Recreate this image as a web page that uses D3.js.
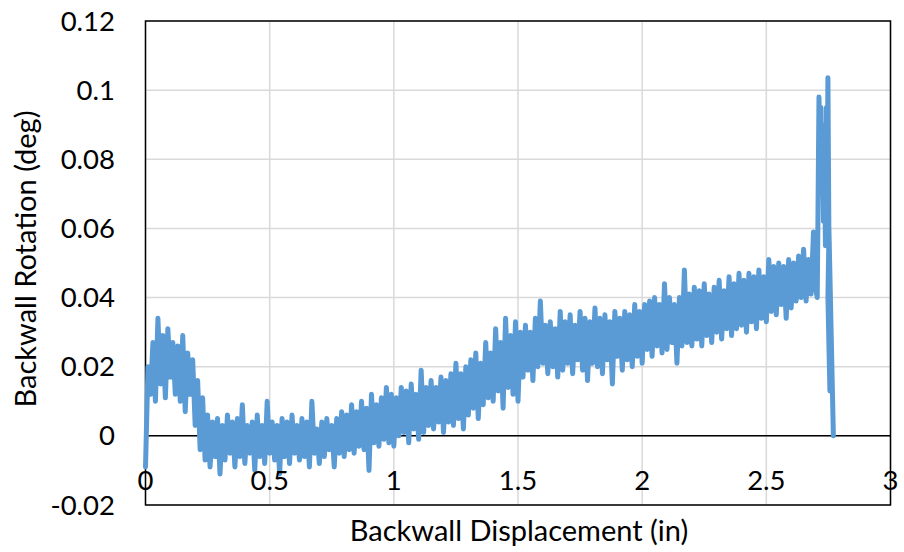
<!DOCTYPE html>
<html>
<head>
<meta charset="utf-8">
<script src="https://cdn.jsdelivr.net/npm/d3@7"></script>
<style>
html,body{margin:0;padding:0;background:#fff;}
svg{display:block;}
text{font-family:Lato,"Open Sans",sans-serif;fill:#000;}
</style>
</head>
<body>
<svg id="chart" width="904" height="552"></svg>
<script>
// ---- data ----
const xTicks = [0, 0.5, 1, 1.5, 2, 2.5, 3];
const yTicks = [-0.02, 0, 0.02, 0.04, 0.06, 0.08, 0.1, 0.12];
const xTickLabels = ["0", "0.5", "1", "1.5", "2", "2.5", "3"];
const yTickLabels = ["-0.02", "0", "0.02", "0.04", "0.06", "0.08", "0.1", "0.12"];
const xTitle = "Backwall Displacement (in)";
const yTitle = "Backwall Rotation (deg)";

const displacement = [
0.00,0.01,0.02,0.03,0.04,0.05,0.06,0.07,0.08,0.09,
0.10,0.11,0.12,0.13,0.14,0.15,0.16,0.17,0.18,0.19,
0.20,0.21,0.22,0.23,0.24,0.25,0.26,0.27,0.28,0.29,
0.30,0.31,0.32,0.33,0.34,0.35,0.36,0.37,0.38,0.39,
0.40,0.41,0.42,0.43,0.44,0.45,0.46,0.47,0.48,0.49,
0.50,0.51,0.52,0.53,0.54,0.55,0.56,0.57,0.58,0.59,
0.60,0.61,0.62,0.63,0.64,0.65,0.66,0.67,0.68,0.69,
0.70,0.71,0.72,0.73,0.74,0.75,0.76,0.77,0.78,0.79,
0.80,0.81,0.82,0.83,0.84,0.85,0.86,0.87,0.88,0.89,
0.90,0.91,0.92,0.93,0.94,0.95,0.96,0.97,0.98,0.99,
1.00,1.01,1.02,1.03,1.04,1.05,1.06,1.07,1.08,1.09,
1.10,1.11,1.12,1.13,1.14,1.15,1.16,1.17,1.18,1.19,
1.20,1.21,1.22,1.23,1.24,1.25,1.26,1.27,1.28,1.29,
1.30,1.31,1.32,1.33,1.34,1.35,1.36,1.37,1.38,1.39,
1.40,1.41,1.42,1.43,1.44,1.45,1.46,1.47,1.48,1.49,
1.50,1.51,1.52,1.53,1.54,1.55,1.56,1.57,1.58,1.59,
1.60,1.61,1.62,1.63,1.64,1.65,1.66,1.67,1.68,1.69,
1.70,1.71,1.72,1.73,1.74,1.75,1.76,1.77,1.78,1.79,
1.80,1.81,1.82,1.83,1.84,1.85,1.86,1.87,1.88,1.89,
1.90,1.91,1.92,1.93,1.94,1.95,1.96,1.97,1.98,1.99,
2.00,2.01,2.02,2.03,2.04,2.05,2.06,2.07,2.08,2.09,
2.10,2.11,2.12,2.13,2.14,2.15,2.16,2.17,2.18,2.19,
2.20,2.21,2.22,2.23,2.24,2.25,2.26,2.27,2.28,2.29,
2.30,2.31,2.32,2.33,2.34,2.35,2.36,2.37,2.38,2.39,
2.40,2.41,2.42,2.43,2.44,2.45,2.46,2.47,2.48,2.49,
2.50,2.51,2.52,2.53,2.54,2.55,2.56,2.57,2.58,2.59,
2.60,2.61,2.62,2.63,2.64,2.65,2.66,2.67,2.68,2.69,
2.700,2.705,2.712,2.716,2.720,2.722,2.726,2.730,2.734,2.738,
2.742,2.745,2.748,2.752,2.748,2.756,2.752,2.770
];

const rotation = [
-0.009,0.020,0.012,0.027,0.010,0.034,0.015,0.029,0.011,0.031,
0.017,0.027,0.012,0.026,0.010,0.029,0.007,0.024,0.012,0.022,
0.003,0.016,-0.004,0.011,-0.007,0.006,-0.009,0.004,-0.006,0.005,
-0.011,0.003,-0.007,0.006,-0.005,0.004,-0.009,0.005,-0.006,0.009,
-0.008,0.003,-0.005,0.004,-0.010,0.006,-0.006,0.003,-0.008,0.010,
-0.005,0.004,-0.007,0.003,-0.011,0.005,-0.006,0.004,-0.008,0.006,
-0.005,0.003,-0.007,0.005,-0.006,0.004,-0.009,0.010,-0.005,0.002,
-0.008,0.004,-0.006,0.005,-0.004,0.003,-0.009,0.005,-0.005,0.007,
-0.006,0.006,-0.004,0.009,-0.005,0.007,-0.003,0.010,-0.004,0.008,
-0.010,0.012,-0.002,0.009,-0.003,0.011,-0.001,0.014,-0.002,0.012,
-0.003,0.011,0.000,0.014,0.001,0.013,-0.002,0.015,0.002,0.012,
-0.001,0.019,0.001,0.014,0.003,0.016,0.002,0.014,0.004,0.017,
0.001,0.016,0.004,0.018,0.003,0.021,0.005,0.018,0.002,0.020,
0.006,0.022,0.008,0.024,0.005,0.021,0.009,0.027,0.011,0.024,
0.010,0.031,0.013,0.027,0.008,0.034,0.014,0.029,0.012,0.033,
0.010,0.030,0.017,0.032,0.019,0.030,0.016,0.034,0.020,0.039,
0.021,0.032,0.018,0.033,0.020,0.031,0.017,0.036,0.019,0.033,
0.021,0.035,0.018,0.032,0.022,0.036,0.019,0.034,0.016,0.033,
0.021,0.037,0.020,0.034,0.018,0.035,0.022,0.033,0.015,0.036,
0.023,0.034,0.019,0.036,0.022,0.035,0.020,0.038,0.023,0.036,
0.021,0.038,0.025,0.039,0.023,0.040,0.026,0.038,0.024,0.044,
0.025,0.040,0.027,0.038,0.021,0.040,0.026,0.048,0.027,0.041,
0.026,0.043,0.028,0.042,0.026,0.044,0.029,0.041,0.027,0.043,
0.030,0.045,0.028,0.042,0.031,0.046,0.029,0.044,0.031,0.047,
0.032,0.045,0.030,0.047,0.033,0.046,0.031,0.048,0.034,0.046,
0.033,0.051,0.036,0.049,0.035,0.050,0.038,0.049,0.034,0.051,
0.037,0.050,0.039,0.052,0.040,0.054,0.039,0.051,0.041,0.059,
0.042,0.040,0.098,0.080,0.095,0.070,0.090,0.062,0.085,0.055,
0.095,0.066,0.1036,0.058,0.040,0.013,0.060,0.000
];

// ---- layout ----
const svg = d3.select("#chart");
const mLeft = 145.5, mRight = 890.5, mTop = 21, mBottom = 505;

const x = d3.scaleLinear().domain([0, 3]).range([mLeft, mRight]);
const y = d3.scaleLinear().domain([-0.02, 0.12]).range([mBottom, mTop]);

// gridlines
svg.append("g")
  .selectAll("line").data(yTicks).join("line")
  .attr("x1", mLeft).attr("x2", mRight)
  .attr("y1", d => y(d)).attr("y2", d => y(d))
  .attr("stroke", "#d9d9d9").attr("stroke-width", 1.5);

svg.append("g")
  .selectAll("line").data(xTicks).join("line")
  .attr("x1", d => x(d)).attr("x2", d => x(d))
  .attr("y1", mTop).attr("y2", mBottom)
  .attr("stroke", "#d9d9d9").attr("stroke-width", 1.5);

// plot border
svg.append("rect")
  .attr("x", mLeft).attr("y", mTop)
  .attr("width", mRight - mLeft).attr("height", mBottom - mTop)
  .attr("fill", "none").attr("stroke", "#000").attr("stroke-width", 1.5);

// zero line (x axis)
svg.append("line")
  .attr("x1", mLeft).attr("x2", mRight)
  .attr("y1", y(0)).attr("y2", y(0))
  .attr("stroke", "#000").attr("stroke-width", 1.5);

// data line
const pts = displacement.map((d, i) => [d, rotation[i]]);
const line = d3.line().x(d => x(d[0])).y(d => y(d[1]));
svg.append("path")
  .datum(pts)
  .attr("d", line)
  .attr("fill", "none")
  .attr("stroke", "#5b9bd5")
  .attr("stroke-width", 5)
  .attr("stroke-linejoin", "round")
  .attr("stroke-linecap", "round");

// y tick labels
svg.append("g")
  .selectAll("text").data(yTicks).join("text")
  .attr("x", 115)
  .attr("y", d => y(d))
  .attr("dy", "0.35em")
  .attr("text-anchor", "end")
  .attr("font-size", 27.5)
  .text((d, i) => yTickLabels[i]);

// x tick labels
svg.append("g")
  .selectAll("text").data(xTicks).join("text")
  .attr("x", d => x(d))
  .attr("y", 480)
  .attr("dy", "0.35em")
  .attr("text-anchor", "middle")
  .attr("font-size", 27.5)
  .text((d, i) => xTickLabels[i]);

// axis titles
svg.append("text")
  .attr("x", 519).attr("y", 531)
  .attr("dy", "0.35em")
  .attr("text-anchor", "middle")
  .attr("font-size", 29)
  .text(xTitle);

svg.append("text")
  .attr("transform", "translate(26,259) rotate(-90)")
  .attr("dy", "0.35em")
  .attr("text-anchor", "middle")
  .attr("font-size", 29)
  .text(yTitle);
</script>
</body>
</html>
